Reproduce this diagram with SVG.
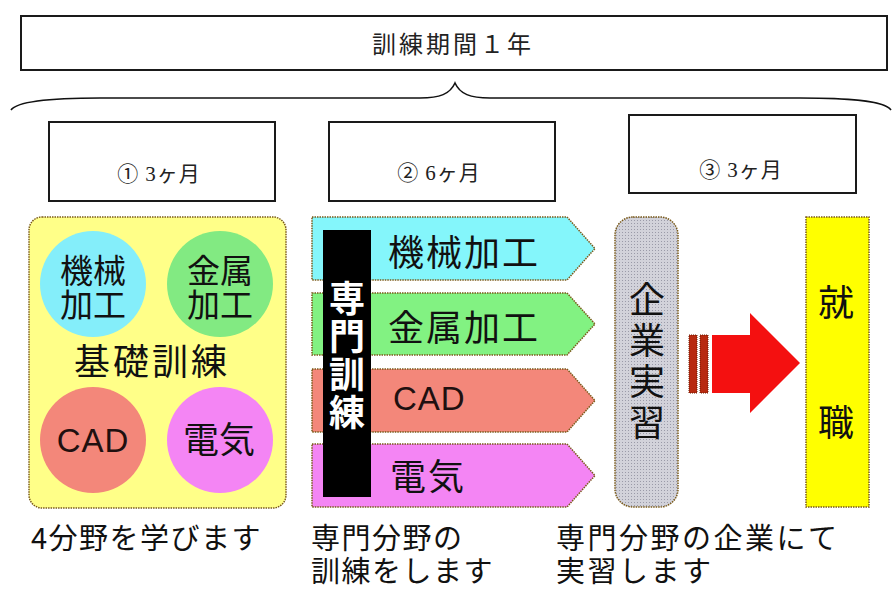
<svg xmlns="http://www.w3.org/2000/svg" width="893" height="592" viewBox="0 0 893 592">
<defs>
<style>
.box{fill:#fff;stroke:#1a1a1a;stroke-width:2}
.t{font-family:"Noto Sans CJK JP",sans-serif;fill:#111}
.ser{font-family:"Liberation Serif","DejaVu Serif","Noto Sans CJK JP",serif;fill:#222}
.lat{font-family:"Liberation Sans",sans-serif;fill:#201010}
.edge{stroke:#7a5a1a;stroke-width:1.5;stroke-dasharray:1.5 1}
.mid{text-anchor:middle}
.vert{writing-mode:vertical-rl;text-orientation:upright}
</style>
<pattern id="dots" width="3" height="3" patternUnits="userSpaceOnUse">
<rect width="3" height="3" fill="#d2d2da"/>
<rect x="1" y="1" width="1" height="1" fill="#9a9aa8"/>
</pattern>
</defs>
<rect width="893" height="592" fill="#fff"/>

<g id="period">
<rect class="box" x="21" y="16" width="866" height="54"/>
<text class="ser mid" x="453" y="53" font-size="24" letter-spacing="3">訓練期間１年</text>
</g>

<g id="connectors">
<path d="M11 110 C18 100 60 98 100 98 L420 98 C440 98 450 94 455 83 C460 94 470 98 490 98 L800 98 C845 98 884 100 891 110" fill="none" stroke="#111" stroke-width="1.6"/>
</g>

<g id="phase1">
<rect class="box" x="49" y="122" width="226" height="79"/>
<text class="ser mid" x="159" y="181" font-size="21" letter-spacing="1">① 3ヶ月</text>
</g>
<g id="phase2">
<rect class="box" x="329" y="122" width="226" height="79"/>
<text class="ser mid" x="439" y="180" font-size="21" letter-spacing="1">② 6ヶ月</text>
</g>
<g id="phase3">
<rect class="box" x="629" y="115" width="227" height="78"/>
<text class="ser mid" x="741" y="177" font-size="21" letter-spacing="1">③ 3ヶ月</text>
</g>

<g id="basic">
<rect class="edge" x="29" y="217" width="257" height="291" rx="13" fill="#ffff88"/>
<circle cx="93" cy="284" r="53" fill="#84eefa"/>
<circle cx="220" cy="284" r="53" fill="#82ea82"/>
<circle cx="93" cy="440" r="53" fill="#f3877a"/>
<circle cx="220" cy="440" r="53" fill="#f485f4"/>
<text class="t mid" font-size="33"><tspan x="93" y="283">機械</tspan><tspan x="93" y="317">加工</tspan></text>
<text class="t mid" font-size="33"><tspan x="220" y="283">金属</tspan><tspan x="220" y="317">加工</tspan></text>
<text class="t mid" x="152" y="375" font-size="36" letter-spacing="3">基礎訓練</text>
<text class="lat mid" x="93" y="452" font-size="33" letter-spacing="1">CAD</text>
<text class="t mid" x="219" y="453" font-size="36" fill="#300030">電気</text>
</g>

<g id="special">
<polygon class="edge" points="312,217 567,217 595,248.5 567,280 312,280" fill="#84f6fb"/>
<polygon class="edge" points="312,293 567,293 595,324 567,355 312,355" fill="#82f282"/>
<polygon class="edge" points="312,369 567,369 595,400.5 567,432 312,432" fill="#f3877a"/>
<polygon class="edge" points="312,444 567,444 595,475.5 567,507 312,507" fill="#f485f4"/>
<rect x="323" y="230" width="48" height="267" fill="#000"/>
<text class="vert" x="347" y="280" font-family="Noto Sans CJK JP,sans-serif" font-weight="bold" font-size="36" letter-spacing="2" fill="#fff">専門訓練</text>
<text class="t" x="388" y="266" font-size="36" letter-spacing="2">機械加工</text>
<text class="t" x="388" y="341" font-size="36" letter-spacing="2">金属加工</text>
<text class="lat" x="393" y="410" font-size="33" letter-spacing="1">CAD</text>
<text class="t" x="390" y="490" font-size="36" letter-spacing="2" fill="#300030">電気</text>
</g>

<g id="internship">
<rect class="edge" x="615" y="217" width="63" height="290" rx="18" fill="url(#dots)"/>
<text class="t vert" x="647" y="281" font-size="36" letter-spacing="5">企業実習</text>
</g>

<g id="arrow">
<rect x="689" y="335" width="8" height="58" fill="#b82a10" stroke="#6a1a00" stroke-width="1" stroke-dasharray="1 1"/>
<rect x="700" y="335" width="8" height="58" fill="#b82a10" stroke="#6a1a00" stroke-width="1" stroke-dasharray="1 1"/>
<polygon points="712,335 750,335 750,313 800,363 750,413 750,393 712,393" fill="#f41010"/>
</g>

<g id="job">
<rect class="edge" x="806" y="217" width="63" height="290" fill="#ffff00"/>
<text class="t mid" x="836" y="316" font-size="36">就</text>
<text class="t mid" x="836" y="436" font-size="36">職</text>
</g>

<g id="captions" class="t" font-size="29">
<text x="31" y="549" letter-spacing="1.5">4分野を学びます</text>
<text letter-spacing="1.5"><tspan x="311" y="549">専門分野の</tspan><tspan x="311" y="582">訓練をします</tspan></text>
<text letter-spacing="2.5"><tspan x="556" y="549">専門分野の企業にて</tspan><tspan x="556" y="582">実習します</tspan></text>
</g>
</svg>
